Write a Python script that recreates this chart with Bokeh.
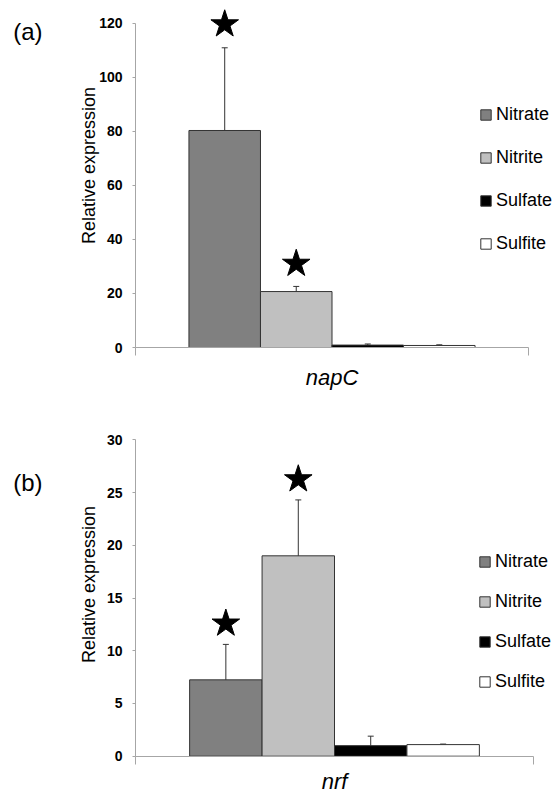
from math import pi

from bokeh.embed import file_html
from bokeh.layouts import column
from bokeh.models import (ColumnDataSource, FixedTicker, Label, Legend,
                          LegendItem, Range1d, TeeHead, Whisker)
from bokeh.plotting import figure
from bokeh.resources import INLINE

# ---------------- data ----------------
treatments = ["Nitrate", "Nitrite", "Sulfate", "Sulfite"]
bar_colors = ["#808080", "#c0c0c0", "#000000", "#ffffff"]

napc_gene = "napC"
napc_values = [80.3, 20.7, 0.9, 0.75]
napc_upper = [110.9, 22.6, 1.3, 1.0]
napc_lower = [58.1, 18.9, 0.6, 0.5]
napc_star_treatments = ["Nitrate", "Nitrite"]
napc_star_heights = [119.6, 31.0]
napc_ticks = [0, 20, 40, 60, 80, 100, 120]

nrf_gene = "nrf"
nrf_values = [7.24, 19.0, 1.0, 1.1]
nrf_upper = [10.6, 24.3, 1.9, 1.15]
nrf_lower = [4.97, 14.9, 0.1, 1.05]
nrf_star_treatments = ["Nitrate", "Nitrite"]
nrf_star_heights = [12.58, 26.26]
nrf_ticks = [0, 5, 10, 15, 20, 25, 30]

FONT = "Liberation Sans"
BAR_W = 0.182
W = 556
AXIS_GREY = "#a6a6a6"
EDGE = "#333333"


def bar_centers(n):
    return [0.5 + (i - (n - 1) / 2) * BAR_W for i in range(n)]


def make_panel(tag, gene, values, upper, lower, star_t, star_h, ticks,
               height, x0_px, x1_px, ytop_px, y0_px,
               legend_left_px, legend_bottom_px, legend_spacing,
               ylabel_px, tag_px, gene_mid_px):
    """Pixel anchors (in this canvas) define the scales; the frame fills the canvas."""
    ymax = ticks[-1]
    sx = x1_px - x0_px                     # px per x unit (category width)
    sy = (y0_px - ytop_px) / ymax          # px per y unit
    px2x = lambda px: (px - x0_px) / sx
    px2y = lambda py: (y0_px - py) / sy

    xs = bar_centers(len(treatments))
    src = ColumnDataSource(dict(x=xs, top=values, upper=upper, lower=lower,
                                color=bar_colors, name=treatments))
    p = figure(width=W, height=height, output_backend="svg",
               toolbar_location=None,
               x_range=Range1d(px2x(0), px2x(W)),
               y_range=Range1d(px2y(height), px2y(0)),
               min_border=0)
    p.outline_line_color = None
    p.grid.visible = False
    p.background_fill_color = "white"
    p.border_fill_color = "white"

    r = p.vbar(x="x", top="top", width=BAR_W, source=src, fill_color="color",
               line_color=EDGE, line_width=1)

    p.add_layout(Whisker(source=src, base="x", upper="upper", lower="lower",
                         line_color=EDGE, line_width=1,
                         upper_head=TeeHead(size=6, line_color=EDGE, line_width=1),
                         lower_head=TeeHead(size=6, line_color=EDGE, line_width=1)))

    star_x = [xs[treatments.index(t)] for t in star_t]
    p.scatter(star_x, star_h, marker="star", size=29, fill_color="black",
              line_color="black")

    # axes (drawn at the data origin, inside the canvas-wide frame)
    ya = p.yaxis[0]
    ya.fixed_location = 0
    ya.bounds = (0, ymax)
    ya.ticker = FixedTicker(ticks=ticks)
    ya.axis_line_color = AXIS_GREY
    ya.major_tick_line_color = AXIS_GREY
    ya.major_tick_out = 3
    ya.major_tick_in = 0
    ya.minor_tick_line_color = None
    ya.major_label_text_font = FONT
    ya.major_label_text_font_style = "bold"
    ya.major_label_text_font_size = "14px"
    ya.major_label_text_color = "black"
    ya.major_label_standoff = 10

    xa = p.xaxis[0]
    xa.fixed_location = 0
    xa.bounds = (0, 1)
    xa.ticker = FixedTicker(ticks=[0, 1])
    xa.major_label_overrides = {0: "", 1: ""}
    xa.major_label_text_font_size = "1px"
    xa.axis_line_color = AXIS_GREY
    xa.major_tick_line_color = AXIS_GREY
    xa.major_tick_out = 8
    xa.major_tick_in = 0
    xa.minor_tick_line_color = None

    # texts
    p.add_layout(Label(x=0.5, y=px2y(gene_mid_px), text=gene,
                       text_font=FONT, text_font_style="italic",
                       text_font_size="22px", text_align="center",
                       text_baseline="middle", text_color="black"))
    p.add_layout(Label(x=px2x(ylabel_px[0]), y=px2y(ylabel_px[1]),
                       text="Relative expression", angle=pi / 2,
                       text_font=FONT, text_font_size="18px",
                       text_align="center", text_baseline="middle",
                       text_color="black"))
    p.add_layout(Label(x=px2x(tag_px[0]), y=px2y(tag_px[1]), text=tag,
                       text_font=FONT, text_font_size="24px",
                       text_align="left", text_baseline="middle",
                       text_color="black"))

    items = [LegendItem(label=t, renderers=[r], index=i)
             for i, t in enumerate(treatments)]
    legend = Legend(items=items,
                    location=(int(round(legend_left_px)),
                              int(round(height - legend_bottom_px))),
                    padding=0, margin=0, spacing=int(legend_spacing),
                    glyph_width=13, glyph_height=13, label_height=20,
                    label_standoff=4, label_text_font=FONT,
                    label_text_font_size="18px", label_text_color="black",
                    border_line_alpha=0, background_fill_alpha=0)
    p.add_layout(legend)
    return p


pa = make_panel("(a)", napc_gene, napc_values, napc_upper, napc_lower,
                napc_star_treatments, napc_star_heights, napc_ticks,
                height=392, x0_px=135, x1_px=528, ytop_px=22.7, y0_px=347,
                legend_left_px=478.7, legend_bottom_px=254.3,
                legend_spacing=22, ylabel_px=(88, 165), tag_px=(12.7, 31),
                gene_mid_px=377)

pb = make_panel("(b)", nrf_gene, nrf_values, nrf_upper, nrf_lower,
                nrf_star_treatments, nrf_star_heights, nrf_ticks,
                height=402, x0_px=135, x1_px=533, ytop_px=47.3, y0_px=363.7,
                legend_left_px=478, legend_bottom_px=299.5,
                legend_spacing=19, ylabel_px=(88, 192), tag_px=(12.7, 89.7),
                gene_mid_px=389)

layout = column(pa, pb, spacing=0)
open("out.html", "w").write(file_html(layout, INLINE))
